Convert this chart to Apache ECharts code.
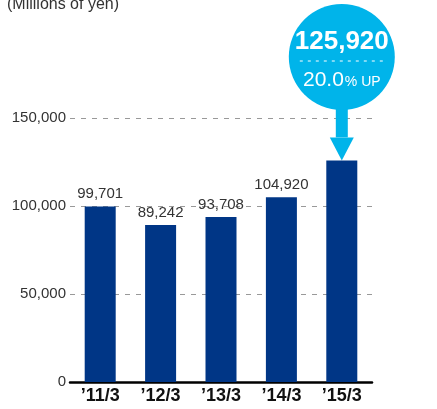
<!DOCTYPE html>
<html>
<head>
<meta charset="utf-8">
<script src="https://cdn.jsdelivr.net/npm/echarts@6/dist/echarts.min.js"></script>
<style>
html, body { margin: 0; padding: 0; background: #fff; }
#main { width: 437px; height: 409px; }
</style>
</head>
<body>
<div id="main"></div>
<script>
// 决算期
var periods = ['\u201911/3', '\u201912/3', '\u201913/3', '\u201914/3', '\u201915/3'];
// 金额（百万日元）
var amounts = [99701, 89242, 93708, 104920, 125920];
// y轴刻度
var y_ticks = [0, 50000, 100000, 150000];
// 气泡里的文字
var callout_value = '125,920';
var callout_rate = '20.0';

var fontNum = "'Liberation Sans', Arial, sans-serif";

var myChart = echarts.init(document.getElementById('main'));

var option = {
	animation: false,
	title: {
		text: '(Millions of yen)',
		left: 2,
		top: -8,
		textStyle: {
			color: '#333',
			fontSize: 16,
			fontWeight: 'normal',
			fontFamily: fontNum
		}
	},
	grid: {
		left: 70,
		right: 65,
		top: 118,
		bottom: 27
	},
	xAxis: {
		type: 'category',
		data: periods,
		axisLine: {
			lineStyle: {
				color: '#000',
				width: 2.5
			}
		},
		axisTick: { show: false },
		axisLabel: {
			color: '#111',
			fontSize: 18,
			fontWeight: 'bold',
			fontFamily: fontNum,
			margin: 5
		}
	},
	yAxis: {
		type: 'value',
		min: y_ticks[0],
		max: y_ticks[y_ticks.length - 1],
		interval: 50000,
		axisLine: { show: false },
		axisTick: { show: false },
		axisLabel: {
			color: '#333',
			fontSize: 15,
			fontFamily: fontNum,
			margin: 4,
			formatter: function(v) {
				return v.toLocaleString('en-US');
			}
		},
		splitLine: {
			lineStyle: {
				color: '#999',
				type: [5, 6],
				width: 1
			}
		}
	},
	series: [{
		type: 'bar',
		data: amounts,
		barWidth: 31,
		itemStyle: { color: '#003686' },
		label: {
			show: true,
			position: 'top',
			distance: 5,
			color: '#333',
			fontSize: 15,
			fontFamily: fontNum,
			formatter: function(p) {
				// 最后一根用气泡显示
				if (p.dataIndex === amounts.length - 1) return '';
				return p.value.toLocaleString('en-US');
			}
		}
	}]
};
myChart.setOption(option);

// 最后一根柱子上方的气泡和箭头
var last = amounts.length - 1;
var tip = myChart.convertToPixel({ seriesIndex: 0 }, [last, amounts[last]]);
var cx = tip[0];
var r = 53;
var cy = 57;
var blue = '#00B4EA';

myChart.setOption({
	graphic: [
		{
			type: 'rect',
			shape: { x: cx - 6, y: cy + 40, width: 12, height: tip[1] - 23 - (cy + 40) },
			style: { fill: blue }
		},
		{
			type: 'polygon',
			shape: { points: [[cx - 12, tip[1] - 23], [cx + 12, tip[1] - 23], [cx, tip[1]]] },
			style: { fill: blue }
		},
		{
			type: 'circle',
			shape: { cx: cx, cy: cy, r: r },
			style: { fill: blue }
		},
		{
			type: 'text',
			x: cx,
			y: 42,
			style: {
				text: callout_value,
				fill: '#fff',
				font: 'bold 26px ' + fontNum,
				align: 'center',
				verticalAlign: 'middle'
			}
		},
		{
			type: 'line',
			shape: { x1: cx - 42, y1: 61, x2: cx + 42, y2: 61 },
			style: { stroke: '#fff', lineWidth: 1, lineDash: [3, 5] }
		},
		{
			type: 'text',
			x: cx,
			y: 80,
			style: {
				text: '{a|' + callout_rate + '}{b|% UP}',
				align: 'center',
				verticalAlign: 'middle',
				rich: {
					a: { fill: '#fff', fontSize: 21, fontFamily: fontNum },
					b: { fill: '#fff', fontSize: 14, fontFamily: fontNum, padding: [5, 0, 0, 1] }
				}
			}
		}
	]
});
</script>
</body>
</html>
